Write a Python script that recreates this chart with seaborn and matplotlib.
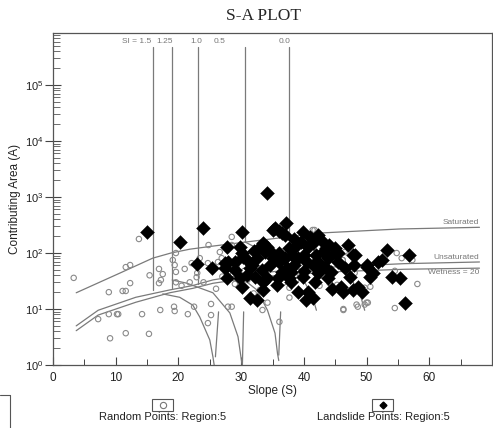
import numpy as np
import pandas as pd
import matplotlib
matplotlib.use("Agg")
import matplotlib.pyplot as plt
import seaborn as sns
from matplotlib.patches import Rectangle
from matplotlib.lines import Line2D

# ---------------- data ----------------
land_slope = [15.0, 20.2, 23.9, 34.2, 37.1, 30.1, 35.0, 35.4, 36.5, 27.7, 29.8, 30.3, 27.4,
              33.0, 33.8, 32.5, 22.9, 25.3, 27.4, 31.4, 33.3, 34.6, 36.1, 27.7, 29.8, 32.2,
              34.1, 35.8, 30.1, 31.4, 32.6, 37.3, 35.7, 39.8, 40.9, 42.2, 42.8, 40.6, 38.5,
              38.1, 39.0, 40.1, 42.0, 43.8, 44.9, 47.0, 47.8, 43.3, 41.4, 37.7, 39.8, 42.2,
              44.4, 46.5, 47.3, 46.0, 48.6, 50.0, 51.0, 51.8, 40.6, 39.0, 46.2, 49.2, 43.8,
              41.7, 53.2, 52.5, 56.8, 54.0, 55.3, 56.1, 48.1, 50.0, 50.5, 47.8, 40.4, 41.4,
              27.9, 31.7, 30.1, 37.7, 34.1, 36.1, 37.0, 35.0, 38.5, 36.5, 33.5, 38.0, 45.5,
              43.0, 31.0, 29.0, 45.0, 44.0,
              33.5, 34.5, 32.0, 36.0, 37.0, 38.5, 39.5, 41.5, 43.5, 45.5, 40.5, 42.5,
              38.0, 40.0, 48.0, 29.0, 31.0, 33.5, 44.5]
land_area = [237, 158, 280, 1180, 345, 237, 258, 280, 229, 128, 128, 85, 66,
             128, 104, 81, 63, 54, 54, 54, 50, 61, 69, 36, 36, 37,
             36, 36, 25, 16, 14.5, 54, 27, 237, 194, 210, 171, 128, 123,
             92, 81, 92, 92, 81, 100, 139, 92, 56, 61, 36, 37, 44,
             46, 54, 37, 25, 25, 56, 44, 69, 20, 20, 20, 20, 36,
             30, 113, 75, 92, 37, 36, 12.8, 92, 61, 37, 22, 14.5, 16,
             69, 61, 100, 123, 128, 100, 81, 81, 61, 46, 30, 30, 69,
             104, 40, 50, 125, 140,
             150, 115, 110, 250, 210, 175, 160, 150, 125, 100, 70, 65,
             45, 48, 60, 70, 75, 22, 23]

rand_slope = [3.3, 13.7, 11.6, 12.3, 12.3, 11.1, 11.6, 8.9, 7.2, 9.1, 10.4, 11.6, 14.2,
              15.3, 17.1, 15.4, 16.9, 17.5, 16.9, 17.2, 19.3, 19.4, 21.5, 19.6, 19.4, 19.6,
              21.0, 19.6, 21.8, 8.9, 10.2, 22.5, 24.7, 25.2, 25.2, 27.9, 28.5, 33.4, 36.1,
              46.3, 48.6, 50.0, 54.5, 34.2, 19.1, 22.9, 24.8, 26.6, 26.9, 28.5, 27.9, 29.3,
              31.8, 33.8, 35.8, 37.7, 41.4, 43.8, 44.6, 46.2, 48.1, 50.6, 54.5, 54.8, 55.6,
              58.1, 57.3, 28.5, 26.3, 24.7, 22.1, 23.4, 41.7, 46.5, 46.2, 37.7, 44.1, 45.3,
              49.7, 50.2, 49.7, 48.4, 46.3, 24.0, 26.0, 29.0, 31.0, 33.0, 30.5, 36.8, 39.5,
              43.0, 20.5, 23.0, 27.0, 32.0, 38.8, 42.5]
rand_area = [36, 178, 56, 61, 29, 21, 21, 20, 6.6, 3.0, 8.1, 3.7, 8.1,
             3.6, 9.6, 40, 52, 42, 29, 33, 11, 9.2, 8.1, 100, 61, 46,
             52, 30, 30, 8.1, 8.1, 11, 5.6, 7.8, 12.3, 11, 11, 9.6, 5.9,
             9.6, 11, 13, 10.4, 13, 75, 37, 139, 104, 81, 139, 44, 56,
             92, 44, 25, 16, 258, 104, 92, 75, 44, 25, 48, 100, 81,
             28, 75, 194, 69, 66, 66, 81, 258, 104, 75, 24, 29, 27,
             24, 13, 12, 12, 10, 30, 23, 28, 33, 22, 48, 30, 58,
             40, 26, 44, 38, 19, 33, 26]

sat_slope = [3.7, 10.7, 15.9, 18.8, 21.8, 25.5, 30.9, 36.1, 43.0, 55.3, 68.0]
sat_area = [19.5, 44, 81, 100, 117, 133, 158, 186, 229, 269, 288]
unsat_slope = [3.7, 7.2, 13.2, 18.6, 22.3, 25.5, 31.0, 38.0, 46.0, 56.0, 68.0]
unsat_area = [5.0, 9.5, 16.2, 21.9, 26.3, 33.1, 41.7, 50.1, 57.5, 64.6, 69.2]
wet_slope = [3.7, 7.2, 13.2, 18.6, 22.3, 25.5, 31.0, 38.0, 46.0, 56.0, 68.0]
wet_area = [4.1, 7.8, 13.2, 19.5, 23.4, 28.8, 35.5, 41.7, 46.8, 51.3, 53.7]

# stability-index lines: vertical (saturated) parts
si_labels = ["SI = 1.5", "1.25", "1.0", "0.5", "0.0"]
si_slope = [15.9, 18.95, 23.2, 30.6, 37.6]
si_top_area = 4.8e5
si_bottom_area = [22, 24, 27.5, 158, 190]
# curved lower parts of the SI lines
arc_a_slope = [17.5, 20.2, 22.3, 23.4, 25.0, 25.5, 25.7]
arc_a_area = [18.6, 16.2, 11.7, 7.2, 2.8, 1.4, 1.0]
arc_b_slope = [19.0, 21.3, 25.5, 28.2, 29.5, 30.1, 30.2]
arc_b_area = [33, 29, 19.5, 8.5, 3.2, 1.1, 1.0]
arc_c_slope = [30.5, 32.5, 34.2, 35.4, 35.8, 36.0]
arc_c_area = [33, 22, 9.5, 3.7, 1.6, 1.2]
arc_d_slope = [30.6, 34.0, 37.5, 40.0, 41.3, 42.0]
arc_d_area = [158, 100, 56, 31.6, 17.8, 9.5]
arc_e_slope = [37.6, 41.0, 44.5, 47.5, 49.0, 49.7]
arc_e_area = [190, 126, 71, 35.5, 17.8, 9.5]
dry_slope_top = [26.4, 30.4, 36.3]
dry_slope_bot = [25.9, 30.2, 36.0]
dry_area_top = [8.9, 8.9, 8.9]
dry_area_bot = [1.4, 1.0, 1.5]

# ---------------- figure ----------------
sns.set_style("ticks")
plt.rcParams['font.family'] = ['Liberation Sans', 'DejaVu Sans']

fig = plt.figure(figsize=(4.93, 4.28), dpi=100)
ax = fig.add_axes([53/493, (428-365)/428, (492-53)/493, (365-33)/428])

LC = "#7a7a7a"
lw = 0.9

def curve(xs, ys):
    d = pd.DataFrame({"s": xs, "a": ys})
    sns.lineplot(data=d, x="s", y="a", ax=ax, color=LC, lw=lw, sort=False,
                 estimator=None, legend=False)

curve(sat_slope, sat_area)
curve(unsat_slope, unsat_area)
curve(wet_slope, wet_area)
for xs, ys in [(arc_a_slope, arc_a_area), (arc_b_slope, arc_b_area), (arc_c_slope, arc_c_area),
               (arc_d_slope, arc_d_area), (arc_e_slope, arc_e_area)]:
    curve(xs, ys)
for s, b in zip(si_slope, si_bottom_area):
    curve([s, s], [si_top_area, b])
for xt, xb, at, ab in zip(dry_slope_top, dry_slope_bot, dry_area_top, dry_area_bot):
    curve([xt, xb], [at, ab])

rand_df = pd.DataFrame({"s": rand_slope, "a": rand_area})
land_df = pd.DataFrame({"s": land_slope, "a": land_area})
sns.scatterplot(data=rand_df, x="s", y="a", ax=ax, marker="o", s=15,
                facecolor="none", edgecolor="#8a8a8a", linewidth=0.8, zorder=3)
sns.scatterplot(data=land_df, x="s", y="a", ax=ax, marker="D", s=50,
                color="black", edgecolor="black", linewidth=0.3, zorder=4)

ax.set_yscale("log")
ax.set_xlim(0, 70)
ax.set_ylim(1, 10**5.93)
ax.set_xticks([0, 10, 20, 30, 40, 50, 60])
ax.set_xticks(np.arange(5, 70, 5), minor=True)
ax.set_yticks([1, 10, 100, 1e3, 1e4, 1e5])
ax.tick_params(axis="x", which="major", direction="in", length=6, width=0.8,
               labelsize=8.5, colors="#444", pad=5, labelcolor="#222")
ax.tick_params(axis="x", which="minor", direction="in", length=4, width=0.7, colors="#444")
ax.tick_params(axis="y", which="major", direction="inout", length=12, width=0.8,
               labelsize=8, colors="#444", labelcolor="#222", pad=1)
ax.tick_params(axis="y", which="minor", direction="in", length=5, width=0.6, colors="#555")

ax.set_xlabel("Slope (S)", fontsize=8.5, labelpad=1, color="#222")
ax.set_ylabel("Contributing Area (A)", fontsize=8.5, labelpad=3, color="#222")
for sp in ax.spines.values():
    sp.set_color("#555")
    sp.set_linewidth(0.9)

fig.text(0.535, 0.963, "S-A PLOT", ha="center", va="center", fontsize=12.5,
         family="Liberation Serif")

# SI labels
lab_y = 6.0e5
lab_pos = [(15.6, "right"), (17.8, "center"), (22.9, "center"), (26.6, "center"), (36.9, "center")]
for (xp, ha), t in zip(lab_pos, si_labels):
    ax.text(xp, lab_y, t, ha=ha, va="center", fontsize=6, color="#777")

ax.text(68, 357, "Saturated", ha="right", va="center", fontsize=6, color="#777")
ax.text(68, 84, "Unsaturated", ha="right", va="center", fontsize=6, color="#777")
ax.text(68, 45, "Wetness = 20", ha="right", va="center", fontsize=6, color="#777")

# bottom legend
def fx(p):
    return p / 493
def fy(p):
    return (428 - p) / 428

fig.add_artist(Rectangle((fx(152), fy(411)), fx(21), 12/428, fill=False, ec="#555", lw=0.8))
fig.add_artist(Line2D([fx(162.5)], [fy(405)], marker="o", ms=4.5, mfc="none", mec="#777", mew=0.8))
fig.text(fx(163), fy(417), "Random Points: Region:5", ha="center", va="center", fontsize=8, color="#222")
fig.add_artist(Rectangle((fx(372), fy(411)), fx(21), 12/428, fill=False, ec="#555", lw=0.8))
fig.add_artist(Line2D([fx(382.5)], [fy(405)], marker="D", ms=3.5, mfc="black", mec="black"))
fig.text(fx(383), fy(417), "Landslide Points: Region:5", ha="center", va="center", fontsize=8, color="#222")
fig.add_artist(Line2D([fx(10), fx(10)], [0, fy(395)], color="#555", lw=0.8))
fig.add_artist(Line2D([0, fx(10)], [fy(395), fy(395)], color="#555", lw=0.8))

fig.savefig("out.png", dpi=100)
